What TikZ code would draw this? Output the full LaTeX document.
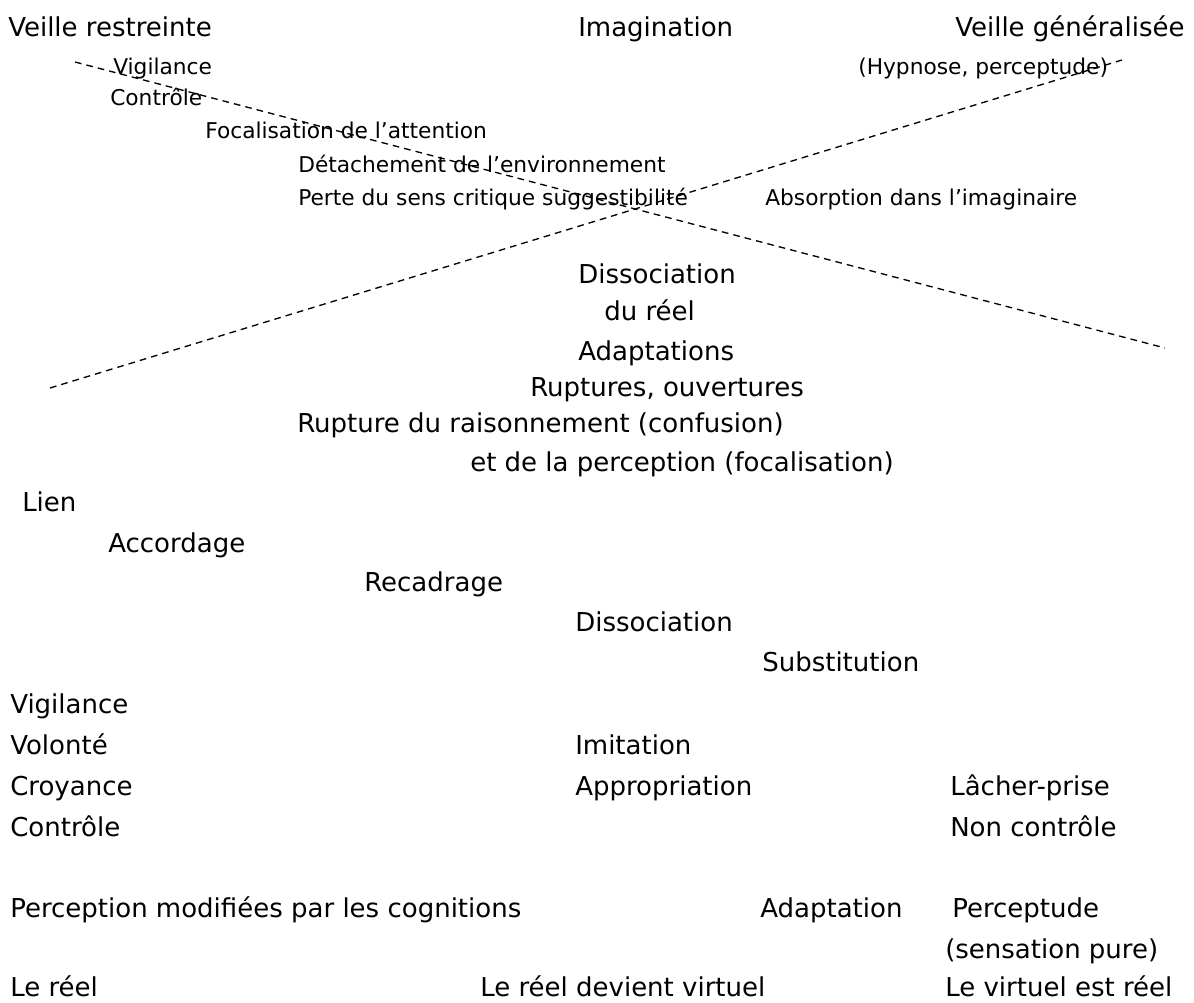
\documentclass[tikz,border=0pt]{standalone}
\usepackage{fontspec}
\setmainfont{DejaVu Sans}

\begin{document}
\begin{tikzpicture}[
		x=0.75pt, y=-0.75pt,
		every node/.style={anchor=base west, inner sep=0pt, font=\fontsize{19.5}{21}\selectfont},
		petit/.style={font=\fontsize{16.3}{18}\selectfont},
		tirets/.style={dash pattern=on 5pt off 3.8pt, line width=1pt}
	]
  \useasboundingbox (0,0) rectangle (1194,1002);

  % titres
  \node (vr) at (8, 37) {Veille restreinte};
  \node (imag) at (578, 37) {Imagination};
  \node (vg) at (955, 37) {Veille généralisée};

  % entre les deux veilles
  \node (vig0) [petit] at (113, 75) {Vigilance};
  \node (ctl0) [petit] at (110, 106) {Contrôle};
  \node (foc) [petit] at (205, 139) {Focalisation de l'attention};
  \node (det) [petit] at (298, 172) {Détachement de l'environnement};
  \node (perte) [petit] at (298, 205) {Perte du sens critique suggestibilité};
  \node (abs) [petit] at (765, 205) {Absorption dans l'imaginaire};
  \node (hyp) [petit] at (858, 75) {(Hypnose, perceptude)};

  \node (dis0) at (578, 283) {Dissociation};
  \node (dureel) at (604, 320) {du réel};
  \node (adapts) at (578, 360) {Adaptations};
  \node (rupt) at (530, 396) {Ruptures, ouvertures};
  \node (rais) at (297, 432) {Rupture du raisonnement (confusion)};
  \node (percf) at (470, 471) {et de la perception (focalisation)};

  % les etapes
  \node (lien) at (22, 511) {Lien};
  \node (acc) at (108, 552) {Accordage};
  \node (rec) at (364, 591) {Recadrage};
  \node (dis1) at (575, 631) {Dissociation};
  \node (subs) at (762, 671) {Substitution};

  \node (vig1) at (10, 713) {Vigilance};
  \node (vol) at (10, 754) {Volonté};
  \node (croy) at (10, 795) {Croyance};
  \node (ctl1) at (10, 836) {Contrôle};
  \node (imit) at (575, 754) {Imitation};
  \node (appr) at (575, 795) {Appropriation};
  \node (lach) at (950, 795) {Lâcher-prise};
  \node (nonctl) at (950, 836) {Non contrôle};

  \node (pmod) at (10, 917) {Perception modifiées par les cognitions};
  \node (adapt) at (760, 917) {Adaptation};
  \node (pcpt) at (952, 917) {Perceptude};
  \node (sens) at (945, 958) {(sensation pure)};
  \node (reel) at (10, 996) {Le réel};
  \node (rvirt) at (480, 996) {Le réel devient virtuel};
  \node (vreel) at (945, 996) {Le virtuel est réel};

  % les deux droites
  \coordinate (a1) at (75, 62);
  \coordinate (a2) at (1165, 348);
  \coordinate (b1) at (50, 388);
  \coordinate (b2) at (1122, 60);
  \draw [tirets] (a1) -- (a2);
  \draw [tirets] (b1) -- (b2);
\end{tikzpicture}
\end{document}
